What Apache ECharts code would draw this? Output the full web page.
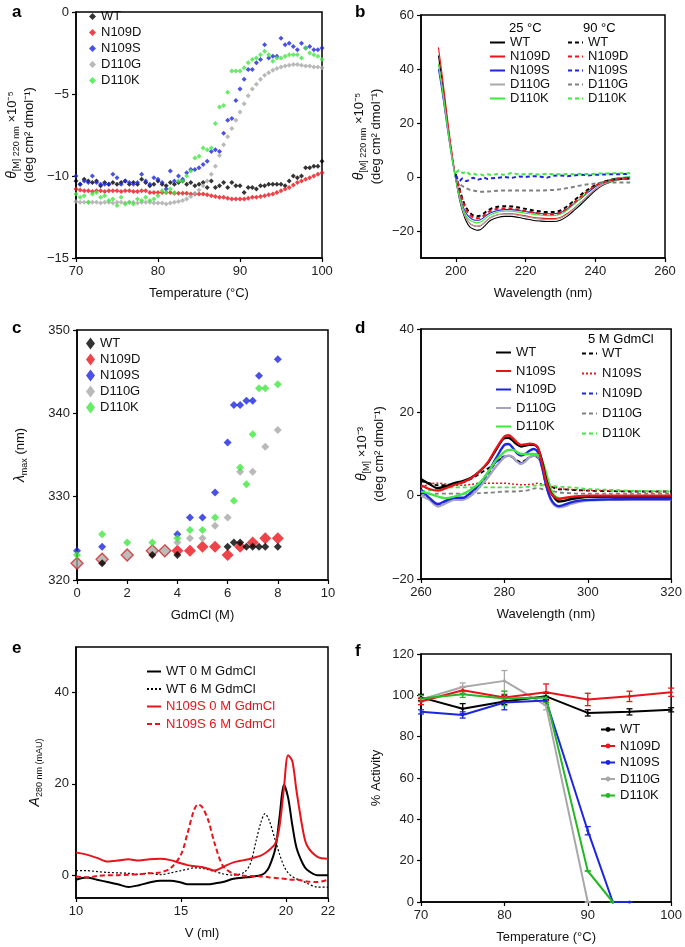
<!DOCTYPE html>
<html>
<head>
<meta charset="utf-8">
<script src="https://cdn.jsdelivr.net/npm/echarts@6/dist/echarts.min.js"></script>
<style>
  html, body { margin: 0; padding: 0; background: #fff; }
  #chart { width: 685px; height: 947px; }
</style>
</head>
<body>
<div id="chart"></div>
<script>
// ---------- panel a : thermal melt at 220 nm ----------
const aTemp = [70,70.5,71,71.5,72,72.5,73,73.5,74,74.5,75,75.5,76,76.5,77,77.5,78,78.5,79,79.5,
  80,80.5,81,81.5,82,82.5,83,83.5,84,84.5,85,85.5,86,86.5,87,87.5,88,88.5,89,89.5,
  90,90.5,91,91.5,92,92.5,93,93.5,94,94.5,95,95.5,96,96.5,97,97.5,98,98.5,99,99.5,100];
const aWT = [-10.3,-10.5,-10.2,-10.3,-10.4,-10.3,-10.6,-10.4,-10.5,-10.4,
  -10.5,-10.4,-10.3,-10.5,-10.4,-10.5,-10.2,-10.4,-10.6,-10.5,
  -10.3,-10.5,-10.6,-10.4,-10.5,-10.4,-10.3,-10.5,-10.4,-10.6,
  -10.5,-10.4,-10.7,-10.3,-10.7,-10.6,-10.4,-10.7,-10.4,-10.6,
  -10.6,-11.0,-10.7,-10.7,-10.8,-10.6,-10.6,-10.5,-10.5,-10.5,
  -10.5,-10.6,-10.3,-10.0,-10.1,-10.0,-9.5,-9.5,-9.4,-9.4,-9.1];
const aN109D = [-10.8,-10.85,-10.9,-10.9,-10.95,-10.9,-10.9,-10.95,-10.9,-10.9,
  -10.9,-10.95,-10.9,-10.9,-10.95,-10.95,-10.9,-10.9,-11.0,-11.0,
  -11.0,-11.0,-11.0,-11.0,-11.05,-11.05,-11.05,-11.05,-11.1,-11.1,
  -11.1,-11.1,-11.15,-11.2,-11.25,-11.3,-11.3,-11.35,-11.4,-11.4,
  -11.4,-11.4,-11.35,-11.3,-11.3,-11.25,-11.2,-11.15,-11.1,-11.0,
  -10.9,-10.8,-10.7,-10.55,-10.4,-10.3,-10.2,-10.1,-10.0,-9.9,-9.8];
const aN109S = [-10.0,-10.5,-10.3,-10.4,-10.0,-10.4,-10.5,-10.5,-10.5,-9.9,
  -10.1,-10.5,-10.3,-10.4,-10.5,-10.4,-9.9,-10.3,-10.5,-10.1,
  -10.2,-10.4,-10.8,-9.7,-10.3,-10.0,-10.2,-9.8,-9.6,-9.6,
  -9.5,-9.3,-9.1,-8.5,-8.4,-8.5,-7.4,-6.6,-6.5,-5.4,
  -4.7,-4.1,-3.5,-3.5,-3.1,-2.9,-2.0,-2.8,-2.7,-2.7,
  -1.6,-2.0,-1.9,-2.1,-2.3,-1.9,-2.2,-2.1,-2.3,-2.3,-2.2];
const aD110G = [-11.55,-11.6,-11.6,-11.6,-11.6,-11.6,-11.65,-11.6,-11.6,-11.65,
  -11.6,-11.6,-11.65,-11.6,-11.6,-11.65,-11.6,-11.6,-11.6,-11.65,
  -11.65,-11.65,-11.7,-11.65,-11.6,-11.55,-11.5,-11.4,-11.25,-11.05,
  -10.85,-10.6,-10.3,-9.9,-9.4,-8.75,-8.1,-7.6,-7.1,-6.6,
  -6.1,-5.6,-5.1,-4.7,-4.4,-4.1,-3.85,-3.7,-3.55,-3.45,
  -3.35,-3.3,-3.25,-3.2,-3.2,-3.25,-3.3,-3.3,-3.35,-3.35,-3.4];
const aD110K = [-11.1,-11.3,-11.2,-11.6,-11.1,-11.0,-11.3,-11.2,-11.5,-11.4,
  -11.8,-11.3,-11.7,-11.6,-11.7,-11.4,-11.5,-11.3,-11.5,-11.4,
  -11.2,-10.9,-11.0,-10.8,-11.0,-10.3,-10.3,-10.0,-9.7,-8.9,
  -8.8,-8.3,-8.4,-8.3,-6.8,-5.8,-5.7,-4.9,-3.6,-3.6,
  -3.6,-3.4,-3.1,-2.9,-2.8,-2.6,-2.4,-2.6,-3.0,-2.8,
  -2.8,-2.7,-2.6,-2.6,-2.6,-2.8,-2.2,-2.5,-2.6,-2.7,-2.9];

// ---------- panel b : far-UV CD ----------
const bWave25 = [195,196,197,198,199,200,201,202,203,204,205,206,207,208,209,210,212,214,216,218,
  220,222,224,226,228,230,232,234,236,238,240,242,244,246,248,250];
const bWT25 = [45,36,26,16,7,-1,-8,-13,-16.5,-18.5,-19.3,-19.7,-19.5,-18.5,-17.2,-16,-15,-14.6,-14.6,-15,
  -15.5,-16,-16.3,-16.5,-16.5,-16,-14.5,-12.3,-10,-7.5,-5,-3.2,-2,-1.2,-0.8,-0.6];
const bN109D25 = [48,38.5,28,17.5,8,-0.5,-7,-12,-15.3,-17.2,-18,-18.3,-18.1,-17.2,-16,-15,-14,-13.6,-13.6,-14,
  -14.4,-14.9,-15.2,-15.4,-15.4,-15,-13.5,-11.5,-9.2,-6.8,-4.5,-2.8,-1.6,-0.9,-0.5,-0.3];
const bN109S25 = [40,32,23,14,6,-1,-6.5,-10.8,-13.5,-15,-15.8,-16,-15.8,-15,-14,-13.2,-12.4,-12.1,-12.1,-12.4,
  -12.8,-13.2,-13.5,-13.6,-13.6,-13.2,-11.8,-9.8,-7.8,-5.6,-3.6,-2.1,-1.1,-0.5,-0.2,0];
const bD110G25 = [42,34,24.5,15,6.5,-1,-7.5,-12.5,-15.5,-17.2,-18,-18.3,-18,-17.2,-16,-15,-14,-13.8,-13.8,-14.2,
  -14.7,-15.2,-15.6,-15.8,-15.8,-15.3,-13.8,-11.6,-9.2,-6.8,-4.6,-2.9,-1.8,-1.1,-0.7,-0.5];
const bD110K25 = [42,33.5,24,14.5,6,-1,-7,-11.5,-14.5,-16,-16.7,-17,-16.7,-15.9,-14.8,-14,-13,-12.7,-12.7,-13,
  -13.4,-13.8,-14.1,-14.3,-14.3,-13.8,-12.2,-10,-7.6,-5.2,-3.2,-1.9,-1,-0.4,-0.1,0.1];
const bWave90 = [200,201,202,203,204,205,206,207,208,209,210,212,214,216,218,
  220,222,224,226,228,230,232,234,236,238,240,242,244,246,248,250];
const bWT90 = [1,-4,-8.5,-11.5,-13.2,-14.2,-14.5,-14.3,-13.5,-12.5,-11.8,-11,-10.8,-10.9,-11.3,
  -11.8,-12.3,-12.7,-13,-13,-12.4,-10.8,-8.7,-6.5,-4.6,-3,-1.9,-1.2,-0.8,-0.6,-0.5];
const bN109D90 = [0.5,-4.5,-9,-12.2,-14,-15,-15.3,-15.1,-14.3,-13.3,-12.5,-11.8,-11.6,-11.7,-12.1,
  -12.6,-13.1,-13.5,-13.8,-13.8,-13.2,-11.5,-9.4,-7.1,-5,-3.3,-2.1,-1.3,-0.8,-0.5,-0.4];
const bN109S90 = [0.5,-1.5,-0.5,-1.5,-1,-0.3,-1,-0.8,-0.2,-0.7,-0.5,-0.3,0,-0.3,0.2,
  0,0.3,0.2,-0.3,0.5,0.6,0.3,0.6,0.8,0.6,0.8,0.9,1,1,1.1,1.1];
const bD110G90 = [-1,-2.5,-3.5,-4.2,-4.7,-5,-5.3,-5.5,-5.5,-5.4,-5.3,-5.1,-5,-5,-5,
  -5,-5,-5,-4.9,-4.8,-4.5,-4.1,-3.6,-3.1,-2.7,-2.4,-2.2,-2,-2,-2,-2];
const bD110K90 = [1.5,2.5,1.5,2,1,1.3,0.8,1,0.6,1,0.8,1.1,0.8,1.5,1,
  1,1.2,0.9,1.2,1,1,1.1,1,1.2,1.1,1.2,1.3,1.3,1.4,1.4,1.4];

// ---------- panel c : lambda max vs GdmCl ----------
const cWTx = [1,3,4,6,6.25,6.5,6.75,7,7.25,7.5,8];
const cWTy = [322,323,323,324,324.5,324.5,324,324,324,324,324];
const cN109Dx = [0,1,2,3,3.5,4,4.5,5,5.5,6,6.5,7,7.5,8];
const cN109Dy = [322,322.5,323,323.5,323.5,323.5,323.5,324,324,323,324,324.5,325,325];
const cN109Sx = [0,1,4,4.5,5,5.5,6,6.25,6.5,6.75,7,7.25,8];
const cN109Sy = [323.5,324,325.5,327.5,327.5,330.5,336.5,341,341,341.5,341.5,344.5,346.5];
const cD110Gx = [4,4.5,5,5.5,6,6.5,7,7.5,8];
const cD110Gy = [324.5,325,325,326.5,327.5,333,333,336,338];
const cD110Kx = [0,1,2,3,4,4.5,5,5.5,6.25,6.5,6.75,7,7.25,7.5,8];
const cD110Ky = [323,325.5,324.5,324.5,325,326,326,327.5,329.5,333.5,331.5,337.5,343,343,343.5];

// ---------- panel d : near-UV CD ----------
const dWave = [260,262,264,266,268,270,272,274,276,278,280,281,282,283,284,285,286,287,288,289,
  290,291,292,293,294,296,298,300,305,310,315,320];
const dWT = [4,2.8,1.8,2.3,3,3.5,4.3,5.8,7.8,11,13.8,13.9,13.2,12.3,11.8,12,12.2,12.2,11.5,8.5,
  4,1,-0.5,-1.4,-1.3,-0.8,-0.5,-0.3,-0.2,-0.2,-0.2,-0.2];
const dN109S = [2.5,1.6,1.2,1.8,2.6,3.2,4.2,5.8,8,11.3,14.2,14.5,13.8,12.8,12.2,12.3,12.5,12.4,11.6,8,
  3.5,0.8,-0.3,-0.8,-0.6,-0.3,-0.1,0,0,0,0,0];
const dN109D = [1.5,-0.5,-2,-1.2,-0.5,-0.5,0.8,2.8,5.5,9,12.2,12.4,11.5,10.2,9.6,10,10.8,11.2,10.5,7,
  2.5,-0.5,-2,-2.5,-2.3,-1.6,-1.2,-1,-0.9,-0.8,-0.8,-0.8];
const dD110G = [0,-1,-2.6,-1.8,-1,-1,0,2,4.3,7,9.2,9.6,9.3,8.2,7.6,8.2,9.2,9.7,9.5,7,
  2.5,-0.8,-2.3,-2.8,-2.7,-2,-1.5,-1.2,-1,-1,-1,-1];
const dD110K = [1,0.5,-0.2,-0.6,-0.2,0.4,1.5,3,5.5,8.5,10.5,11,11,10.5,10,10,10,10,9.8,8.5,
  5.5,2,0,-0.6,-0.7,-0.5,-0.4,-0.3,-0.2,-0.2,-0.2,-0.2];
const dWT5M = [3.5,3,2.5,2.5,2.8,3.2,4,5.2,6.5,8,9.3,9.5,9.2,8.5,8,8.5,9.2,9.5,9.2,7.5,
  4.5,2.5,1.8,1.5,1.5,1.4,1.3,1.2,1.1,1,1,1];
const dN109S5M = [2,2.8,3,2.8,2.5,2.5,2.7,3,3,3,3,2.9,2.8,2.7,2.6,2.6,2.7,2.8,3,2.8,
  2.5,2.2,2,1.8,1.6,1.5,1.4,1.3,1.2,1.1,1,1];
const dN109D5M = [1,-0.8,-2.2,-1.5,-0.6,-0.8,0.5,2.5,5,8,9.5,9.6,9.2,8.2,7.8,8.4,9.3,9.6,9.3,6.8,
  2.5,-0.6,-2.2,-2.7,-2.6,-1.9,-1.4,-1.1,-1,-0.9,-0.9,-0.9];
const dD110G5M = [0,0.3,0.5,0.5,0.5,0.5,0.5,0.6,0.7,0.8,1,1,1,1,1.1,1.2,1.4,1.7,1.8,1.6,
  1.4,1.2,1,0.8,0.7,0.6,0.5,0.5,0.5,0.5,0.5,0.5];
const dD110K5M = [1,1.3,1.6,1.9,2,2,2,2,2,2,2,2,2,2,2,2.1,2.2,2.4,2.5,2.5,
  2.5,2.4,2.3,2.2,2.1,2,1.8,1.6,1.4,1.2,1.1,1];

// ---------- panel e : size exclusion ----------
const eVol = [10,10.5,11,11.5,12,12.5,13,13.5,14,14.5,15,15.3,15.6,15.8,16,16.3,16.6,17,17.5,18,
  18.3,18.6,18.8,19,19.2,19.5,19.7,19.9,20.1,20.3,20.5,20.8,21,21.5,22];
const eWT0 = [-1,-0.5,-1,-1.5,-2,-2.6,-2.2,-1.6,-1.2,-1.2,-1.6,-2,-2,-2,-2,-2,-1.8,-1.5,-0.8,-0.5,
  -0.4,-0.2,0,0.5,1.8,6,13,19.8,17,11,6,2.5,1.2,0,0];
const eWT6 = [1,1,0.8,0.6,0.5,0.4,0.2,0.5,0.1,0.5,1,1.3,1.6,1.6,1.5,1.2,0.8,0.3,0,0.6,
  2.5,8,11.5,13.5,12,7.5,4.5,2,0.5,-0.3,-0.8,-1.3,-1.8,-2.6,-2.6];
const eN109S0 = [5,4.5,3.8,3,3.2,3.5,3.2,3.5,3.6,3.3,2.6,2.2,2,1.9,1.8,1.4,1,1.8,2.8,3.3,
  3.6,4,4.3,4.8,5.5,7,11,19,26.3,25,18.5,10,6.5,4,3.6];
const eN109S6 = [-0.3,-0.5,-0.2,0,0,0.1,0.2,0.4,0.6,1.5,4.5,9,14,15.5,15,12,7,2,0.3,-0.1,
  -0.2,-0.2,-0.3,-0.3,-0.5,-0.6,-0.7,-0.8,-0.9,-1,-1,-1.2,-1.4,-1.5,-1];

// ---------- panel f : residual activity ----------
const fTemp = [70,75,80,85,90,95,100];
const fWT = [99,93.5,97,99.5,91.5,92,93];
const fWTerr = [1.5,2.5,1.5,1.5,1.5,1.5,1];
const fN109D = [97,102.5,99,101.5,98,99.5,101.5];
const fN109Derr = [1.5,1.5,1.5,4,3,2.5,2];
const fN109Sx = [70,75,80,85,90,93,95];
const fN109S = [92,90.5,96.5,97.5,34.5,0,0];
const fN109Serr = [1,1.5,3.5,2,2,0,0];
const fD110Gx = [70,75,80,85,90];
const fD110G = [98,104,107,95,0];
const fD110Gerr = [1,2,5,2,0];
const fD110Kx = [70,75,80,85,90,93];
const fD110K = [98.5,100.5,98.5,99,15,0];
const fD110Kerr = [1.5,1.5,3.5,2.5,0,0];

// ---------- helpers ----------
const FONT = 'Liberation Sans, Arial, sans-serif';
const pairs = (xs, ys) => xs.map((x, i) => [x, ys[i]]);
const minus = v => (v < 0 ? '\u2212' + Math.abs(v) : String(v));
const stripName = n => n.split('|')[1];

const grids = [
  { left: 76, top: 12, width: 246, height: 246 },
  { left: 421, top: 15, width: 244, height: 243 },
  { left: 77, top: 330, width: 251, height: 250 },
  { left: 421, top: 329, width: 252, height: 250 },
  { left: 76, top: 647, width: 252, height: 251 },
  { left: 421, top: 654, width: 253, height: 252 }
].map(g => Object.assign({ show: true, borderColor: '#000', borderWidth: 1.5, backgroundColor: 'transparent' }, g));

const nameRich = {
  t: { fontStyle: 'italic', fontSize: 14, fontFamily: FONT, color: '#111' },
  s: { fontSize: 9, fontFamily: FONT, color: '#111', verticalAlign: 'bottom', lineHeight: 18 }
};

function axis(gi, min, max, interval, name, nameGap, extra) {
  const a = {
    gridIndex: gi, type: 'value', min: min, max: max, interval: interval,
    name: name, nameLocation: 'middle', nameGap: nameGap,
    nameTextStyle: { fontSize: 13, color: '#111', fontFamily: FONT, lineHeight: 17, rich: nameRich },
    axisLine: { show: true, onZero: false, lineStyle: { color: '#000', width: 1.5 } },
    axisTick: { show: true, length: 4, inside: false, lineStyle: { color: '#000', width: 1.2 } },
    axisLabel: { fontSize: 13, color: '#222', fontFamily: FONT, margin: 7, formatter: minus },
    splitLine: { show: false }
  };
  if (extra) {
    a.axisLabel = Object.assign(a.axisLabel, extra.label || {});
    a.axisTick = Object.assign(a.axisTick, extra.tick || {});
  }
  return a;
}

const xAxes = [
  axis(0, 70, 100, 10, 'Temperature (°C)', 27),
  axis(1, 190, 260, 10, 'Wavelength (nm)', 27,
    { label: { customValues: [200, 220, 240, 260] }, tick: { customValues: [200, 220, 240, 260] } }),
  axis(2, 0, 10, 2, 'GdmCl (M)', 27),
  axis(3, 260, 320, 20, 'Wavelength (nm)', 27),
  axis(4, 10, 22, 5, 'V (ml)', 27),
  axis(5, 70, 100, 10, 'Temperature (°C)', 27)
];
const yAxes = [
  axis(0, -15, 0, 5, '{t|θ}{s|[M] 220 nm} ×10⁻⁵\n(deg cm² dmol⁻¹)', 38),
  axis(1, -30, 60, 10, '{t|θ}{s|[M] 220 nm} ×10⁻⁵\n(deg cm² dmol⁻¹)', 36,
    { label: { customValues: [-20, 0, 20, 40, 60] }, tick: { customValues: [-20, 0, 20, 40, 60] } }),
  axis(2, 320, 350, 10, '{t|λ}{s|max} (nm)', 48),
  axis(3, -20, 40, 20, '{t|θ}{s|[M]} ×10⁻³\n(deg cm² dmol⁻¹)', 32),
  axis(4, -5, 50, 5, '{t|A}{s|280 nm (mAU)}', 32,
    { label: { customValues: [0, 20, 40] }, tick: { customValues: [0, 20, 40] } }),
  axis(5, 0, 120, 20, '% Activity', 36)
];

// colours
const BLK = '#000', RED = '#e8141b', BLU = '#1c25e0', GRY = '#a8a8a8', GRN = '#3ee83e', GRN2 = '#24b824';

const series = [];
// a
[['a|WT', aWT, BLK], ['a|N109D', aN109D, RED], ['a|N109S', aN109S, BLU],
 ['a|D110G', aD110G, GRY], ['a|D110K', aD110K, GRN]].forEach(([n, ys, c]) => {
  series.push({ name: n, type: 'scatter', xAxisIndex: 0, yAxisIndex: 0, symbol: 'diamond',
    symbolSize: 5, itemStyle: { color: c }, data: pairs(aTemp, ys) });
});
// b
[['b25|WT', bWT25, BLK], ['b25|N109D', bN109D25, RED], ['b25|N109S', bN109S25, BLU],
 ['b25|D110G', bD110G25, GRY], ['b25|D110K', bD110K25, GRN]].forEach(([n, ys, c]) => {
  series.push({ name: n, type: 'line', xAxisIndex: 1, yAxisIndex: 1, symbol: 'none', smooth: 0.3,
    lineStyle: { color: c, width: 1.1 }, itemStyle: { color: c }, data: pairs(bWave25, ys) });
});
[['b90|WT', bWT90, BLK], ['b90|N109D', bN109D90, RED], ['b90|N109S', bN109S90, BLU],
 ['b90|D110G', bD110G90, '#808080'], ['b90|D110K', bD110K90, GRN]].forEach(([n, ys, c]) => {
  series.push({ name: n, type: 'line', xAxisIndex: 1, yAxisIndex: 1, symbol: 'none', smooth: 0.3,
    lineStyle: { color: c, width: 2, type: [4, 3] }, itemStyle: { color: c }, data: pairs(bWave90, ys) });
});
// c
series.push({ name: 'c|N109D', type: 'scatter', xAxisIndex: 2, yAxisIndex: 2, symbol: 'diamond', symbolSize: 12,
  itemStyle: { color: RED },
  data: pairs(cN109Dx, cN109Dy).map((p, i) => i < 5
    ? { value: p, itemStyle: { color: '#aaaaaa', borderColor: '#d42020', borderWidth: 1.3 } } : p) });
[['c|WT', cWTx, cWTy, BLK], ['c|N109S', cN109Sx, cN109Sy, BLU],
 ['c|D110G', cD110Gx, cD110Gy, GRY], ['c|D110K', cD110Kx, cD110Ky, GRN]].forEach(([n, xs, ys, c]) => {
  series.push({ name: n, type: 'scatter', xAxisIndex: 2, yAxisIndex: 2, symbol: 'diamond',
    symbolSize: 8, itemStyle: { color: c }, data: pairs(xs, ys) });
});
// d
[['d5|WT', dWT5M, BLK, [4, 3], 1.8], ['d5|N109S', dN109S5M, RED, [2, 2], 1.5], ['d5|N109D', dN109D5M, BLU, [4, 3], 1.8],
 ['d5|D110G', dD110G5M, '#808080', [4, 3], 1.8], ['d5|D110K', dD110K5M, GRN, [4, 3], 1.8]].forEach(([n, ys, c, t, w]) => {
  series.push({ name: n, type: 'line', xAxisIndex: 3, yAxisIndex: 3, symbol: 'none', smooth: 0.3,
    lineStyle: { color: c, width: w, type: t }, itemStyle: { color: c }, data: pairs(dWave, ys) });
});
[['d0|D110G', dD110G, '#a4a4c0'], ['d0|N109D', dN109D, BLU], ['d0|D110K', dD110K, GRN],
 ['d0|WT', dWT, BLK], ['d0|N109S', dN109S, RED]].forEach(([n, ys, c]) => {
  series.push({ name: n, type: 'line', xAxisIndex: 3, yAxisIndex: 3, symbol: 'none', smooth: 0.3,
    lineStyle: { color: c, width: 2.3 }, itemStyle: { color: c }, data: pairs(dWave, ys) });
});
// e
[['e|WT 0 M GdmCl', eWT0, BLK, 'solid', 2], ['e|WT 6 M GdmCl', eWT6, BLK, [2, 2], 1.2],
 ['e|N109S 0 M GdmCl', eN109S0, RED, 'solid', 2], ['e|N109S 6 M GdmCl', eN109S6, RED, [5, 3], 2]].forEach(([n, ys, c, t, w]) => {
  series.push({ name: n, type: 'line', xAxisIndex: 4, yAxisIndex: 4, symbol: 'none', smooth: 0.3,
    lineStyle: { color: c, width: w, type: t }, itemStyle: { color: c }, data: pairs(eVol, ys) });
});
// f
const errorBars = (xs, ys, es) => xs.map((x, i) => [x, ys[i] - es[i], ys[i] + es[i]]);
[['f|D110G', fD110Gx, fD110G, fD110Gerr, GRY], ['f|WT', fTemp, fWT, fWTerr, BLK],
 ['f|N109D', fTemp, fN109D, fN109Derr, RED], ['f|N109S', fN109Sx, fN109S, fN109Serr, BLU],
 ['f|D110K', fD110Kx, fD110K, fD110Kerr, GRN2]].forEach(([n, xs, ys, es, c]) => {
  series.push({ name: n, type: 'line', xAxisIndex: 5, yAxisIndex: 5, symbol: 'circle', symbolSize: 3,
    lineStyle: { color: c, width: 2 }, itemStyle: { color: c }, data: pairs(xs, ys) });
  series.push({ name: n + ' err', type: 'custom', xAxisIndex: 5, yAxisIndex: 5,
    encode: { x: 0, y: [1, 2] },
    renderItem: (params, api) => {
      const lo = api.coord([api.value(0), api.value(1)]);
      const hi = api.coord([api.value(0), api.value(2)]);
      const st = { stroke: c, lineWidth: 1.3 };
      return { type: 'group', children: [
        { type: 'line', shape: { x1: lo[0], y1: lo[1], x2: hi[0], y2: hi[1] }, style: st },
        { type: 'line', shape: { x1: lo[0] - 3, y1: lo[1], x2: lo[0] + 3, y2: lo[1] }, style: st },
        { type: 'line', shape: { x1: hi[0] - 3, y1: hi[1], x2: hi[0] + 3, y2: hi[1] }, style: st }
      ] };
    },
    data: errorBars(xs, ys, es) });
});

// legends
const lg = (left, top, names, gap, iw, ih, fs, extra) => Object.assign({
  orient: 'vertical', left: left, top: top, itemGap: gap, itemWidth: iw, itemHeight: ih,
  selectedMode: false, formatter: stripName, padding: 0,
  textStyle: { fontSize: fs, color: '#111', fontFamily: FONT },
  data: names
}, extra || {});
// line legends show only the line, no marker
const noMark = { itemStyle: { opacity: 0 } };

const legends = [
  lg(89, 10, ['a|WT', 'a|N109D', 'a|N109S', 'a|D110G', 'a|D110K'], 3, 7, 7, 13),
  lg(489, 36, ['b25|WT', 'b25|N109D', 'b25|N109S', 'b25|D110G', 'b25|D110K'], 1, 15, 8, 13, noMark),
  lg(567, 36, ['b90|WT', 'b90|N109D', 'b90|N109S', 'b90|D110G', 'b90|D110K'], 1, 15, 8, 13, noMark),
  lg(86, 337, ['c|WT', 'c|N109D', 'c|N109S', 'c|D110G', 'c|D110K'], 3, 9, 12, 13),
  lg(495, 346, ['d0|WT', 'd0|N109S', 'd0|N109D', 'd0|D110G', 'd0|D110K'], 5.5, 15, 8, 13, noMark),
  lg(581, 347, ['d5|WT', 'd5|N109S', 'd5|N109D', 'd5|D110G', 'd5|D110K'], 7, 15, 8, 13, noMark),
  lg(146, 665, [
    { name: 'e|WT 0 M GdmCl' }, { name: 'e|WT 6 M GdmCl' },
    { name: 'e|N109S 0 M GdmCl', textStyle: { color: RED } },
    { name: 'e|N109S 6 M GdmCl', textStyle: { color: RED } }], 4.5, 14, 8, 13, noMark),
  lg(600, 723, ['f|WT', 'f|N109D', 'f|N109S', 'f|D110G', 'f|D110K'], 3.5, 14, 6, 13)
];

const txt = (left, top, text, size, weight) => ({
  type: 'text', left: left, top: top,
  style: { text: text, fontSize: size, fontWeight: weight || 'normal', fontFamily: FONT, fill: '#000' }
});
const graphics = [
  txt(12, 4, 'a', 17, 'bold'), txt(355, 4, 'b', 17, 'bold'),
  txt(12, 320, 'c', 17, 'bold'), txt(355, 320, 'd', 17, 'bold'),
  txt(12, 640, 'e', 17, 'bold'), txt(355, 643, 'f', 17, 'bold'),
  txt(509, 22, '25 °C', 13), txt(583, 22, '90 °C', 13),
  txt(588, 333, '5 M GdmCl', 13)
];

const chart = echarts.init(document.getElementById('chart'), null, { renderer: 'canvas' });
chart.setOption({
  animation: false,
  backgroundColor: '#fff',
  textStyle: { fontFamily: FONT },
  grid: grids,
  xAxis: xAxes,
  yAxis: yAxes,
  legend: legends,
  graphic: graphics,
  series: series
});
</script>
</body>
</html>
